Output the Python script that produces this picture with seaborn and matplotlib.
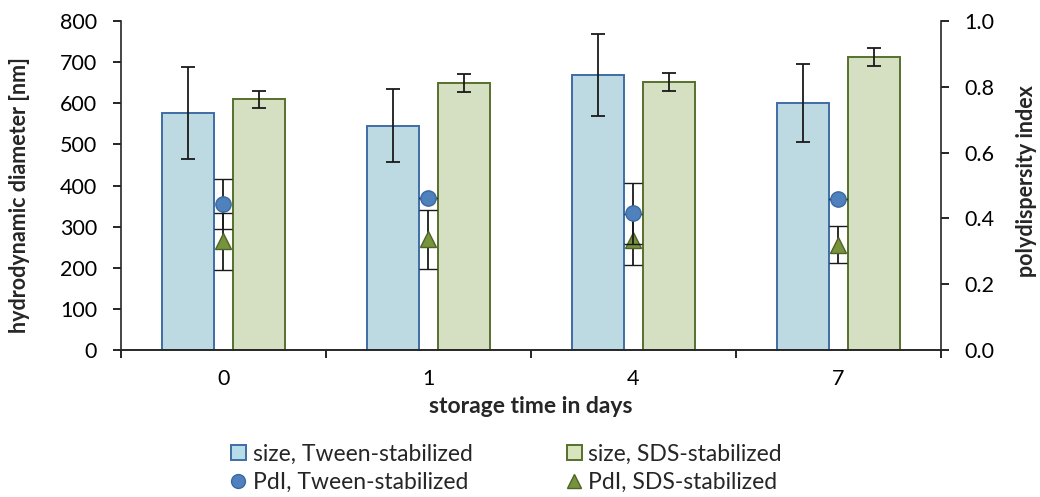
import numpy as np
import pandas as pd
import matplotlib
matplotlib.use("Agg")
import matplotlib.pyplot as plt
from matplotlib.lines import Line2D
from matplotlib.patches import Patch
import seaborn as sns

# storage time categories
days = ["0", "1", "4", "7"]

# hydrodynamic diameter [nm] and standard deviation
size_tween = [577, 545, 669, 600]
size_tween_err = [112, 89, 99, 95]
size_sds = [610, 649, 652, 713]
size_sds_err = [21, 21, 22, 22]

# polydispersity index and standard deviation
pdi_tween = [0.444, 0.463, 0.415, 0.458]
pdi_tween_err = [0.075, 0.0, 0.093, 0.0]
pdi_sds = [0.330, 0.336, 0.335, 0.320]
pdi_sds_err = [0.087, 0.089, 0.078, 0.056]

left_ticks = [0, 100, 200, 300, 400, 500, 600, 700, 800]
right_ticks = [0.0, 0.2, 0.4, 0.6, 0.8, 1.0]

series_names = ["size, Tween-stabilized", "size, SDS-stabilized",
                "PdI, Tween-stabilized", "PdI, SDS-stabilized"]

tween_face, tween_edge = "#B7DDE8", "#3F6DA6"
sds_face, sds_edge = "#D7E4BD", "#56702C"
circle_face, circle_edge = "#4F81BD", "#3A68A0"
tri_face, tri_edge = "#77933C", "#4F6228"

sns.set_style("ticks")
plt.rcParams["font.family"] = ["Lato", "DejaVu Sans"]
plt.rcParams["font.size"] = 15.5
plt.rcParams["axes.linewidth"] = 1.2

df = pd.DataFrame({
    "day": days * 2,
    "size": size_tween + size_sds,
    "stabilizer": ["Tween"] * len(days) + ["SDS"] * len(days),
})

fig = plt.figure(figsize=(10.4, 4.97), dpi=100)
ax = fig.add_axes([120.7 / 1040, 1 - 350 / 497, 820.3 / 1040, 329 / 497])

sns.barplot(data=df, x="day", y="size", hue="stabilizer", order=days,
            hue_order=["Tween", "SDS"], palette=[tween_face, sds_face],
            width=0.692, gap=0.266, errorbar=None, linewidth=1.4,
            legend=False, ax=ax, zorder=1)

edges = [tween_edge, sds_edge]
errs = [size_tween_err, size_sds_err]
for cont, ec, err in zip(ax.containers, edges, errs):
    xs, hs = [], []
    for bar in cont:
        bar.set_edgecolor(ec)
        xs.append(bar.get_x() + bar.get_width() / 2)
        hs.append(bar.get_height())
    ax.errorbar(xs, hs, yerr=err, fmt="none", ecolor="#1a1a1a",
                elinewidth=1.3, capsize=5, capthick=1.3, zorder=3)

ax.set_xlim(-0.5, len(days) - 0.5)
ax.set_ylim(0, 800)
ax.set_yticks(left_ticks)
ax.set_xticks(np.arange(len(days)))
ax.set_xticklabels(days)
ax.set_xticks(np.arange(len(days) + 1) - 0.5, minor=True)
ax.tick_params(axis="x", which="major", length=0, pad=14, colors="black")
ax.tick_params(axis="x", which="minor", length=5.5, width=1.2, color="black")
ax.tick_params(axis="y", length=6, width=1.2, pad=11, colors="black")
ax.spines["top"].set_visible(False)
ax.spines["right"].set_visible(False)
ax.set_xlabel("storage time in days", fontweight="bold", fontsize=16.5,
              labelpad=5)
ax.set_ylabel("hydrodynamic diameter [nm]", fontweight="bold")
ax.yaxis.set_label_coords(-0.111, 0.47)

ax2 = ax.twinx()
ax2.set_ylim(0, 1.0)
ax2.set_yticks(right_ticks)
ax2.set_yticklabels([f"{t:.1f}" for t in right_ticks])
ax2.tick_params(axis="y", length=6, width=1.2, pad=11, colors="black")
ax2.spines["top"].set_visible(False)
ax2.spines["left"].set_visible(False)
ax2.set_ylabel("polydispersity index", fontweight="bold")
ax2.yaxis.set_label_coords(1.091, 0.514)

xpos = np.arange(len(days))
ax2.errorbar(xpos, pdi_sds, yerr=pdi_sds_err, fmt="^", ms=11,
             mfc=tri_face, mec=tri_edge, mew=1.0, ecolor="#1a1a1a",
             elinewidth=1.3, capsize=6.5, capthick=1.3, zorder=3)
ax2.errorbar(xpos, pdi_tween, yerr=pdi_tween_err, fmt="o", ms=11,
             mfc=circle_face, mec=circle_edge, mew=1.0, ecolor="#1a1a1a",
             elinewidth=1.3, capsize=6.5, capthick=1.3, zorder=4)

handles = [
    Patch(facecolor=tween_face, edgecolor=tween_edge, linewidth=1.4),
    Line2D([], [], ls="none", marker="o", ms=10, mfc=circle_face, mec=circle_edge),
    Patch(facecolor=sds_face, edgecolor=sds_edge, linewidth=1.4),
    Line2D([], [], ls="none", marker="^", ms=10, mfc=tri_face, mec=tri_edge),
]
labels = [series_names[0], series_names[2], series_names[1], series_names[3]]
fig.legend(handles, labels, ncol=2, loc="center left",
           bbox_to_anchor=(231 / 1040, 1 - 468 / 497), frameon=False,
           fontsize=16.5, handlelength=0.65, handleheight=0.65,
           handletextpad=0.3, columnspacing=4.1, labelspacing=0.3,
           borderpad=0.0, borderaxespad=0.0)

fig.savefig("out.png", dpi=100)
